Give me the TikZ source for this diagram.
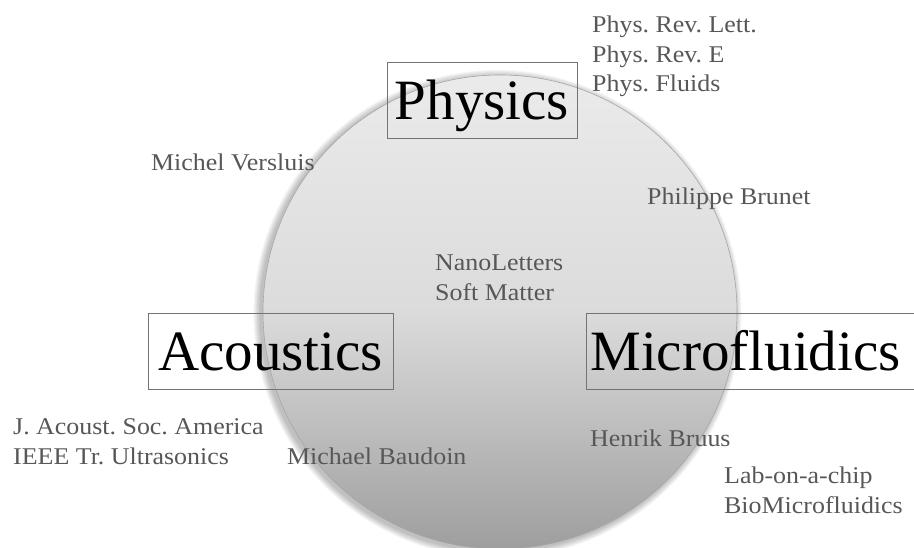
\documentclass[tikz,border=0pt]{standalone}
\usepackage{fontspec}
\setmainfont{Liberation Serif}
\newfontfamily\namefont{Liberation Serif}[FakeStretch=1.08]
\usepackage{tikz}
\frenchspacing

\definecolor{discTop}{gray}{0.92}
\definecolor{discMid}{gray}{0.86}
\definecolor{discBot}{gray}{0.62}
\definecolor{nameGray}{gray}{0.34}
\definecolor{boxGray}{gray}{0.45}

\tikzset{
	field/.style={draw=boxGray, line width=0.8pt, minimum height=76pt, inner sep=0pt, text height=40pt, text depth=0pt, font=\fontsize{57}{60}\selectfont},
	names/.style={anchor=base west, inner sep=0pt, align=left, text=nameGray, font=\namefont\fontsize{24}{29.5}\selectfont}
}

\begin{document}
\begin{tikzpicture}[x=1pt,y=1pt]
	\useasboundingbox (0,0) rectangle (914,547);
	\coordinate (c) at (500,235);
	% soft shadow under the disc
	\foreach \r in {238,...,244}
		\fill[black, opacity=0.04] ([xshift=-2.5pt,yshift=-2pt]c) circle (\r pt);
	\shade[top color=discTop, bottom color=discBot, middle color=discMid, draw=black!35, line width=0.6pt] (c) circle (237pt);
	% fields
	\node[field, minimum width=190pt] (phys) at (482,447) {Physics};
	\node[field, minimum width=245pt] (acou) at (270.5,196) {Acoustics};
	\node[field, anchor=west, inner xsep=4pt, text width=345pt, align=left] (micro) at (586,196) {Microfluidics};
	% journals and people
	\node[names] (jphys) at (592,455) {Phys. Rev. Lett.\\Phys. Rev. E\\Phys. Fluids};
	\node[names] (versluis) at (151,376) {Michel Versluis};
	\node[names] (brunet) at (647,342) {Philippe Brunet};
	\node[names] (jcross) at (435,247) {NanoLetters\\Soft Matter};
	\node[names] (jacou) at (13,83) {J. Acoust. Soc. America\\IEEE Tr. Ultrasonics};
	\node[names] (baudoin) at (287,83) {Michael Baudoin};
	\node[names] (bruus) at (590,100) {Henrik Bruus};
	\node[names] (jmicro) at (724,34) {Lab-on-a-chip\\BioMicrofluidics};
\end{tikzpicture}
\end{document}
